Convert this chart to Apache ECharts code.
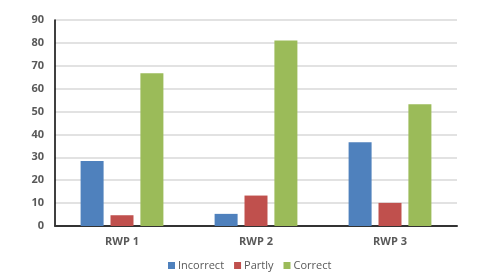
<!DOCTYPE html>
<html><head><meta charset="utf-8">
<script src="https://cdn.jsdelivr.net/npm/echarts@6/dist/echarts.min.js"></script>
<style>html,body{margin:0;padding:0;background:#fff}#c{width:482px;height:278px}</style>
</head><body><div id="c"></div>
<script>
var categories = ["RWP 1", "RWP 2", "RWP 3"];
var incorrect = [28.4, 5.3, 36.6];
var partly = [4.7, 13.3, 10.1];
var correct = [66.7, 81, 53.2];
var seriesNames = ["Incorrect", "Partly", "Correct"];
var colors = ["#4F81BD", "#C0504D", "#9BBB59"];
var font = "Open Sans";
var chart = echarts.init(document.getElementById('c'));
chart.setOption({
  animation: false,
  color: colors,
  grid: {left: 55, right: 25, top: 20, bottom: 52},
  legend: {
    bottom: 2, left: 163, itemWidth: 7, itemHeight: 7, itemGap: 10,
    icon: 'rect',
    textStyle: {color: '#595959', fontSize: 11, fontFamily: font, padding: [0,0,0,-2]},
    data: seriesNames
  },
  xAxis: {
    type: 'category', data: categories,
    axisLine: {lineStyle: {color: '#333', width: 2}},
    axisTick: {show: false},
    axisLabel: {color: '#595959', fontSize: 11, fontWeight: 'bold', fontFamily: font, margin: 10}
  },
  yAxis: {
    type: 'value', min: 0, max: 90, interval: 10,
    axisLine: {show: true, lineStyle: {color: '#000', width: 1.5}},
    axisTick: {show: false},
    splitLine: {lineStyle: {color: '#D9D9D9', width: 1.5}},
    axisLabel: {color: '#595959', fontSize: 11, fontWeight: 'bold', fontFamily: font, margin: 11}
  },
  series: [
    {name: seriesNames[0], type: 'bar', data: incorrect, barWidth: 23, barGap: '30%'},
    {name: seriesNames[1], type: 'bar', data: partly, barWidth: 23, barGap: '30%'},
    {name: seriesNames[2], type: 'bar', data: correct, barWidth: 23, barGap: '30%'}
  ]
});
</script></body></html>
